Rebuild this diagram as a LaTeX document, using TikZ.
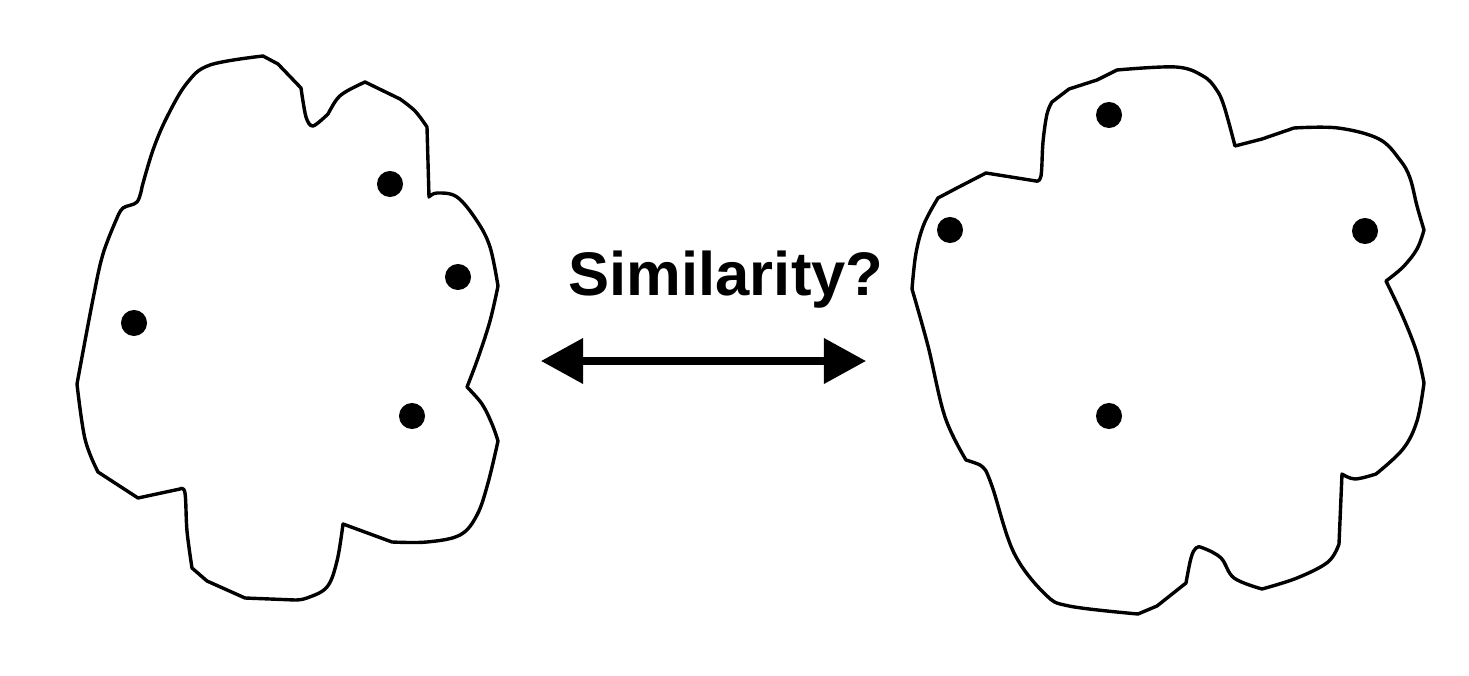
\documentclass[tikz,border=0pt]{standalone}
\usepackage{fontspec}
\setmainfont{Liberation Sans}
\usetikzlibrary{arrows.meta}
\tikzset{
  blob/.style={draw=black, line width=0.034cm, line join=round},
  dot/.style={circle, fill=black, inner sep=0pt, minimum size=0.26cm},
  twoway/.style={line width=0.07cm, {Triangle[length=0.42cm,width=0.44cm]}-{Triangle[length=0.42cm,width=0.44cm]}},
  label/.style={font=\fontsize{17.5}{20}\selectfont\bfseries, inner sep=0pt, anchor=base}
}
\begin{document}
\begin{tikzpicture}[x=0.01cm, y=-0.01cm]
\useasboundingbox (0,0) rectangle (1469,676);
% left blob
\draw[blob] plot[smooth, tension=0.6] coordinates {(142,187) (153,150) (167,117) (187,83) (210,65) (263,56)}
  -- (278,64) -- (301,88)
  -- plot[smooth, tension=0.5] coordinates {(301,88) (306,117) (313,126) (328,114)}
  -- plot[smooth, tension=0.6] coordinates {(328,114) (337,99) (347,91) (365,82)}
  -- (400,99)
  -- plot[smooth, tension=0.6] coordinates {(400,99) (415,111) (427,127)}
  -- (429,197)
  -- plot[smooth, tension=0.6] coordinates {(429,197) (437,193) (457,197) (477,221) (490,247) (498,286)}
  -- plot[smooth, tension=0.6] coordinates {(498,286) (490,321) (478,358) (467,387)}
  -- plot[smooth, tension=0.6] coordinates {(467,387) (482,404) (492,424) (498,441)}
  -- plot[smooth, tension=0.6] coordinates {(498,441) (488,483) (477,515) (460,535) (427,542) (392,542)}
  -- (343,524)
  -- plot[smooth, tension=0.6] coordinates {(343,524) (337,561) (327,587) (307,598) (295,600)}
  -- (245,598) -- (207,581) -- (192,568)
  -- plot[smooth, tension=0.6] coordinates {(192,568) (187,531) (185,493) (180,489)}
  -- (138,498) -- (98,472)
  -- plot[smooth, tension=0.6] coordinates {(98,472) (85,439) (77,384)}
  -- plot[smooth, tension=0.6] coordinates {(77,384) (93,299) (103,254) (117,218)}
  -- plot[smooth, tension=0.6] coordinates {(117,218) (123,208) (137,202) (142,187)}
  -- cycle;
% right blob
\draw[blob] plot[smooth, tension=0.6] coordinates {(1117,70) (1176,67) (1203,76) (1216,89) (1224,106) (1235,146)}
  -- (1262,139) -- (1294,128)
  -- plot[smooth, tension=0.6] coordinates {(1294,128) (1338,128) (1379,139) (1400,160) (1410,178) (1417,206) (1424,230)}
  -- plot[smooth, tension=0.6] coordinates {(1424,230) (1417,249) (1403,267) (1386,281)}
  -- plot[smooth, tension=0.6] coordinates {(1386,281) (1403,317) (1417,353) (1424,383)}
  -- plot[smooth, tension=0.6] coordinates {(1424,383) (1417,421) (1403,449) (1376,474)}
  -- plot[smooth, tension=0.6] coordinates {(1376,474) (1355,479) (1342,474)}
  -- (1339,544)
  -- plot[smooth, tension=0.6] coordinates {(1339,544) (1328,562) (1297,578) (1262,589)}
  -- plot[smooth, tension=0.6] coordinates {(1262,589) (1234,578) (1221,558) (1203,548) (1196,548) (1191,558) (1186,583)}
  -- (1157,606) -- (1138,614)
  -- plot[smooth, tension=0.6] coordinates {(1138,614) (1069,606) (1045,594) (1014,553) (993,489) (986,471)}
  -- plot[smooth, tension=0.6] coordinates {(986,471) (980,465) (966,460)}
  -- plot[smooth, tension=0.6] coordinates {(966,460) (945,417) (928,346) (912,289)}
  -- plot[smooth, tension=0.6] coordinates {(912,289) (916,253) (924,224) (938,198)}
  -- (955,189) -- (986,173) -- (1036,181)
  -- plot[smooth, tension=0.6] coordinates {(1036,181) (1041,176) (1043,142) (1047,114) (1052,102)}
  -- (1069,89) -- (1097,80) -- cycle;
% dots
\node[dot] (l1) at (390,184) {};
\node[dot] (l2) at (458,277) {};
\node[dot] (l3) at (134,323) {};
\node[dot] (l4) at (412,416) {};
\node[dot] (r1) at (1109,115) {};
\node[dot] (r2) at (950,230) {};
\node[dot] (r3) at (1365,231) {};
\node[dot] (r4) at (1109,416) {};
% label and arrow
\node[label] (sim) at (726,296) {Similarity?};
\coordinate (al) at (541,361);
\coordinate (ar) at (866,361);
\draw[twoway] (al) -- (ar);
\end{tikzpicture}
\end{document}
